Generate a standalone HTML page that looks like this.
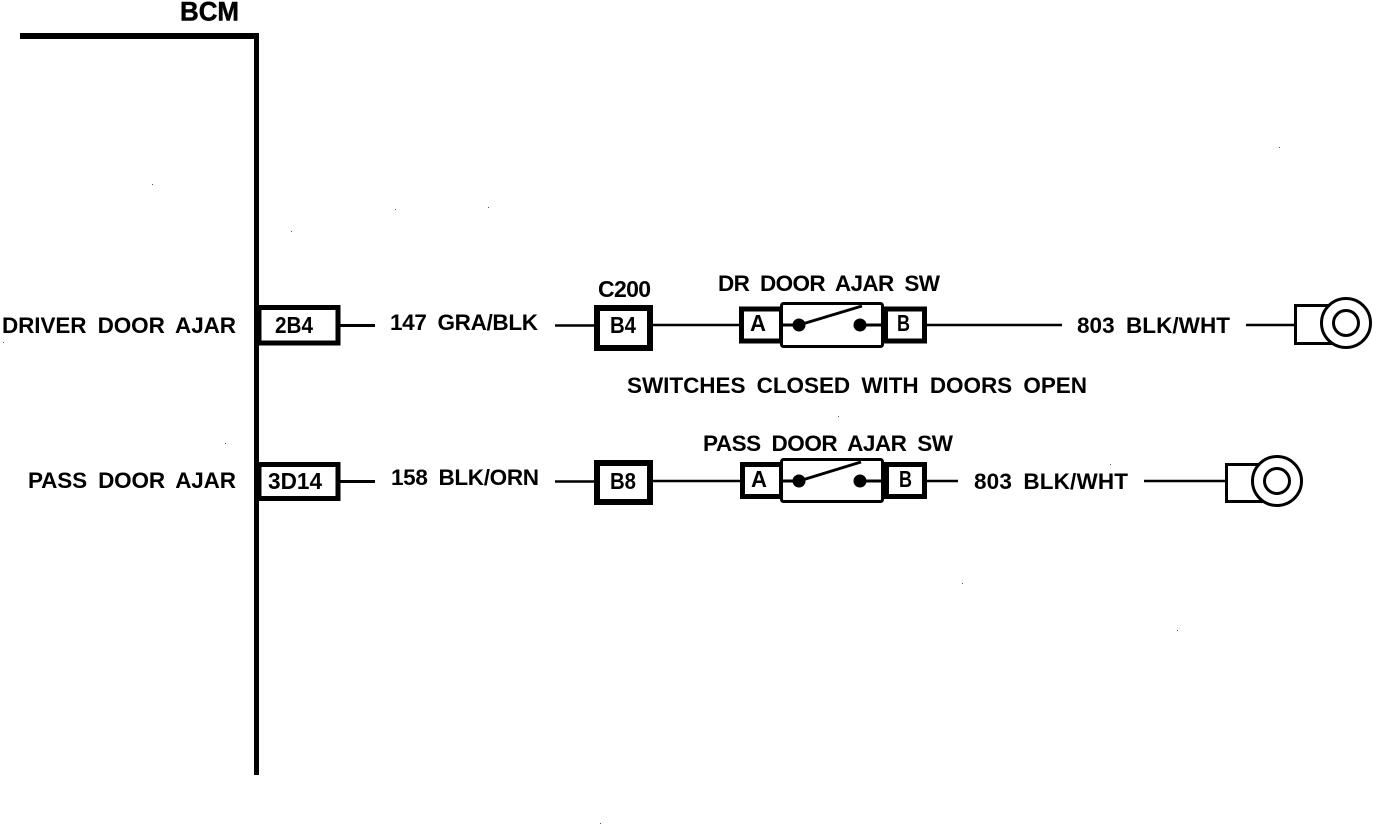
<!DOCTYPE html>
<html>
<head>
<meta charset="utf-8">
<style>
html,body{margin:0;padding:0;background:#fff;}
svg{display:block;}
text{font-family:"Liberation Sans",sans-serif;font-weight:bold;font-size:22.500px;word-spacing:5px;fill:#000;}
</style>
</head>
<body>
<svg width="1392" height="824" viewBox="0 0 1392 824" xmlns="http://www.w3.org/2000/svg">
<rect width="1392" height="824" fill="#fff"/>

<!-- BCM frame -->
<g fill="#000" shape-rendering="crispEdges">
<rect x="20" y="33" width="239" height="6"/>
<rect x="254" y="33" width="5" height="742"/>
</g>
<text x="180" y="20.500" textLength="59" lengthAdjust="spacingAndGlyphs" style="font-size:27px" stroke="#000" stroke-width="0.500">BCM</text>

<!-- Row 1 -->
<text x="2" y="333" textLength="234" lengthAdjust="spacing">DRIVER DOOR AJAR</text>
<rect x="259" y="307.500" width="79" height="35.500" fill="#fff" stroke="#000" stroke-width="5"/>
<text x="275" y="333" textLength="38" lengthAdjust="spacingAndGlyphs" style="font-size:23px">2B4</text>
<g stroke="#000" fill="none">
<line x1="340" y1="325.500" x2="375" y2="325.500" stroke-width="3"/>
<line x1="555" y1="325.500" x2="597" y2="325.500" stroke-width="2.500"/>
<line x1="651" y1="325" x2="741" y2="325" stroke-width="2.500"/>
<line x1="925" y1="325" x2="1062" y2="325" stroke-width="2.500"/>
<line x1="1246" y1="325" x2="1296" y2="325" stroke-width="2.500"/>
</g>
<text x="390" y="330" textLength="148" lengthAdjust="spacing">147 GRA/BLK</text>
<rect x="597" y="308" width="53" height="40" fill="#fff" stroke="#000" stroke-width="6"/>
<text x="610" y="333" textLength="26" lengthAdjust="spacingAndGlyphs" style="font-size:23px">B4</text>
<text x="598" y="297" textLength="53" lengthAdjust="spacing" style="font-size:23px">C200</text>
<text x="718" y="291" textLength="222" lengthAdjust="spacing">DR DOOR AJAR SW</text>

<rect x="741.500" y="309" width="40" height="32" fill="#fff" stroke="#000" stroke-width="5"/>
<rect x="885.500" y="309" width="39" height="32" fill="#fff" stroke="#000" stroke-width="5"/>
<rect x="781.500" y="303.500" width="101" height="43" rx="2" fill="#fff" stroke="#000" stroke-width="3"/>
<g stroke="#000" fill="none">
<line x1="781" y1="325" x2="799" y2="325" stroke-width="3"/>
<line x1="860" y1="325" x2="883" y2="325" stroke-width="3"/>
<line x1="799" y1="325" x2="862" y2="306" stroke-width="3"/>
</g>
<circle cx="799" cy="325" r="6.500" fill="#000"/>
<circle cx="860" cy="325" r="6.500" fill="#000"/>
<text x="750" y="331" textLength="16" lengthAdjust="spacingAndGlyphs" style="font-size:23px">A</text>
<text x="897" y="331" textLength="13" lengthAdjust="spacingAndGlyphs" style="font-size:23px">B</text>

<text x="1077" y="333" textLength="153" lengthAdjust="spacing">803 BLK/WHT</text>
<rect x="1295.500" y="305.500" width="52" height="38" fill="#fff" stroke="#000" stroke-width="3"/>
<circle cx="1346" cy="323" r="24.500" fill="#fff" stroke="#000" stroke-width="3"/>
<circle cx="1346" cy="323" r="12.500" fill="#fff" stroke="#000" stroke-width="3"/>

<text x="627" y="393" textLength="460" lengthAdjust="spacing">SWITCHES CLOSED WITH DOORS OPEN</text>

<!-- Row 2 -->
<text x="28" y="488" textLength="208" lengthAdjust="spacing">PASS DOOR AJAR</text>
<rect x="259" y="464.500" width="79" height="34" fill="#fff" stroke="#000" stroke-width="5"/>
<text x="268" y="489" textLength="54" lengthAdjust="spacingAndGlyphs" style="font-size:23px">3D14</text>
<g stroke="#000" fill="none">
<line x1="340" y1="481.500" x2="375" y2="481.500" stroke-width="3"/>
<line x1="555" y1="481.500" x2="597" y2="481.500" stroke-width="2.500"/>
<line x1="651" y1="481" x2="742" y2="481" stroke-width="2.500"/>
<line x1="925" y1="481" x2="958" y2="481" stroke-width="2.500"/>
<line x1="1144" y1="481" x2="1226" y2="481" stroke-width="2.500"/>
</g>
<text x="391" y="485" textLength="148" lengthAdjust="spacing">158 BLK/ORN</text>
<rect x="597" y="463" width="53" height="39" fill="#fff" stroke="#000" stroke-width="6"/>
<text x="610" y="489" textLength="26" lengthAdjust="spacingAndGlyphs" style="font-size:23px">B8</text>
<text x="703" y="451" textLength="250" lengthAdjust="spacing">PASS DOOR AJAR SW</text>

<rect x="742.500" y="464.500" width="39" height="32" fill="#fff" stroke="#000" stroke-width="5"/>
<rect x="886.500" y="464.500" width="38" height="32" fill="#fff" stroke="#000" stroke-width="5"/>
<rect x="781.500" y="459.500" width="101" height="42" rx="2" fill="#fff" stroke="#000" stroke-width="3"/>
<g stroke="#000" fill="none">
<line x1="781" y1="481" x2="799" y2="481" stroke-width="3"/>
<line x1="860" y1="481" x2="883" y2="481" stroke-width="3"/>
<line x1="799" y1="481" x2="861" y2="462" stroke-width="3"/>
</g>
<circle cx="799" cy="481" r="6.500" fill="#000"/>
<circle cx="860" cy="481" r="6.500" fill="#000"/>
<text x="751" y="487" textLength="16" lengthAdjust="spacingAndGlyphs" style="font-size:23px">A</text>
<text x="899" y="487" textLength="13" lengthAdjust="spacingAndGlyphs" style="font-size:23px">B</text>

<text x="974" y="489" textLength="154" lengthAdjust="spacing">803 BLK/WHT</text>
<rect x="1226.500" y="464.500" width="52" height="37" fill="#fff" stroke="#000" stroke-width="3"/>
<circle cx="1277" cy="481" r="24.500" fill="#fff" stroke="#000" stroke-width="3"/>
<circle cx="1277" cy="481" r="12.500" fill="#fff" stroke="#000" stroke-width="3"/>

<!-- Scan specks -->
<g fill="#555" shape-rendering="crispEdges">
<rect x="152" y="184" width="1" height="1"/>
<rect x="395" y="209" width="1" height="1"/>
<rect x="488" y="207" width="1" height="1"/>
<rect x="291" y="231" width="1" height="1"/>
<rect x="1279" y="147" width="1" height="1"/>
<rect x="225" y="443" width="1" height="1"/>
<rect x="3" y="342" width="1" height="1"/>
<rect x="838" y="416" width="1" height="1"/>
<rect x="962" y="583" width="1" height="1"/>
<rect x="1177" y="630" width="1" height="1"/>
<rect x="600" y="823" width="1" height="1"/>
<rect x="1110" y="464" width="1" height="1"/>
</g>
</svg>
</body>
</html>
